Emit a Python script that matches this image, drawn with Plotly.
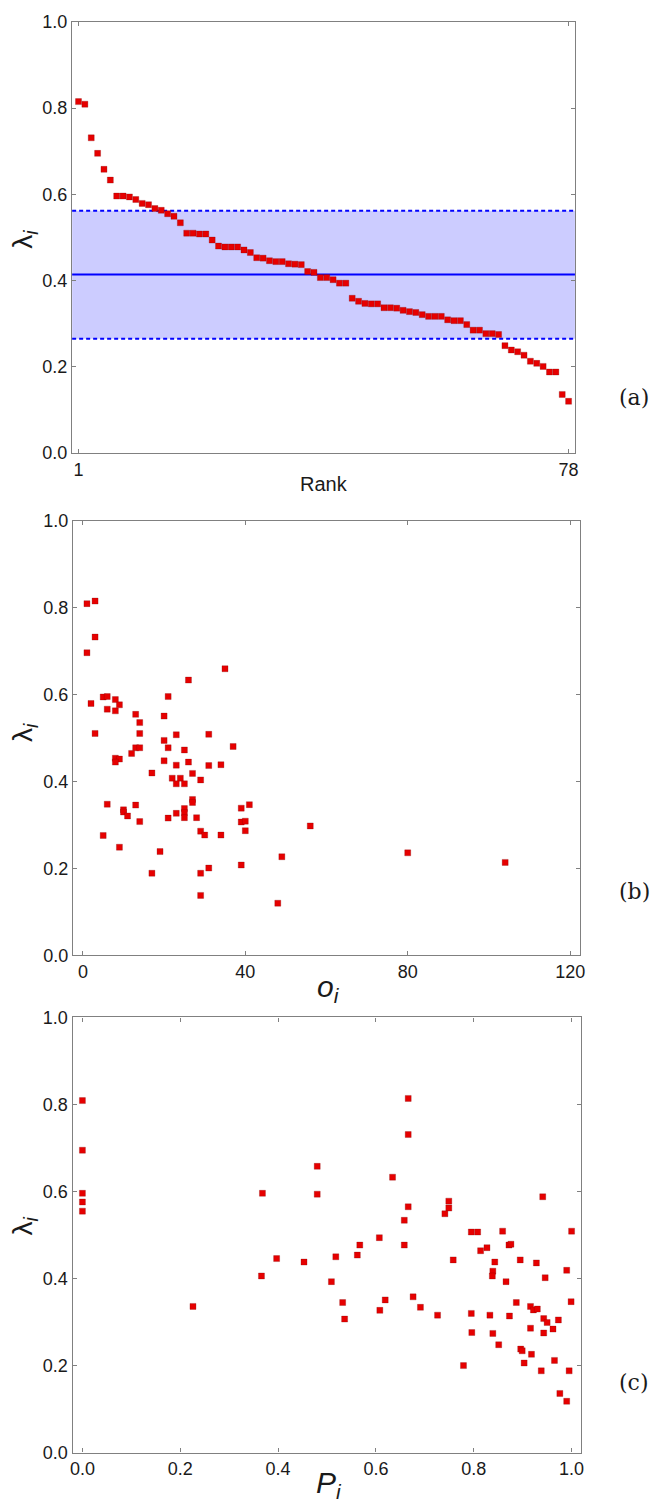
import plotly.graph_objects as go

W, H = 657, 1511

# ---------------- data ----------------
rank = list(range(1, 79))
lam_rank = [0.815, 0.809, 0.731, 0.695, 0.658, 0.633, 0.596, 0.596, 0.594, 0.588,
            0.579, 0.576, 0.567, 0.563, 0.555, 0.549, 0.534, 0.510, 0.510, 0.508,
            0.508, 0.494, 0.480, 0.478, 0.478, 0.478, 0.471, 0.465, 0.453, 0.452,
            0.446, 0.444, 0.444, 0.439, 0.438, 0.437, 0.421, 0.419, 0.407, 0.407,
            0.402, 0.394, 0.394, 0.359, 0.352, 0.347, 0.346, 0.346, 0.337, 0.337,
            0.336, 0.331, 0.328, 0.326, 0.321, 0.317, 0.317, 0.317, 0.309, 0.307,
            0.307, 0.298, 0.285, 0.285, 0.277, 0.277, 0.275, 0.249, 0.239, 0.235,
            0.227, 0.213, 0.208, 0.201, 0.188, 0.188, 0.136, 0.120]
band_mean = 0.414
band_lo = 0.265
band_hi = 0.562

o_vals = [2, 3, 5, 6, 6, 8, 8, 9, 13, 14, 14, 13, 14, 12, 8, 9, 8, 17, 20, 21,
          20, 21, 20, 23, 25, 23, 26, 22, 24, 23, 25, 27, 29, 26, 35, 31, 31, 34, 37, 6,
          10, 10, 11, 13, 14, 5, 9, 19, 17, 21, 23, 25, 25, 25, 27, 27, 28, 29, 30, 34,
          29, 31, 29, 39, 41, 39, 40, 40, 39, 49, 56, 80, 104, 1, 3, 3, 1, 48]
lam_o = [0.580, 0.511, 0.595, 0.596, 0.567, 0.589, 0.563, 0.577, 0.555, 0.536,
         0.511, 0.478, 0.478, 0.465, 0.454, 0.452, 0.445, 0.420, 0.551, 0.596,
         0.495, 0.478, 0.448, 0.508, 0.473, 0.438, 0.445, 0.408, 0.408, 0.395,
         0.395, 0.419, 0.404, 0.634, 0.660, 0.509, 0.437, 0.439, 0.481, 0.348,
         0.335, 0.330, 0.321, 0.346, 0.308, 0.276, 0.249, 0.239, 0.189, 0.316,
         0.327, 0.338, 0.329, 0.317, 0.359, 0.352, 0.317, 0.286, 0.277, 0.277,
         0.189, 0.201, 0.138, 0.339, 0.347, 0.307, 0.309, 0.287, 0.208, 0.227,
         0.298, 0.236, 0.214, 0.810, 0.816, 0.733, 0.697, 0.120]

p_vals = [0.0, 0.0, 0.48, 0.666, 0.666, 0.0, 0.0, 0.0, 0.368, 0.366,
          0.397, 0.453, 0.509, 0.518, 0.226, 0.48, 0.634, 0.567, 0.562, 0.607,
          0.658, 0.658, 0.666, 0.749, 0.749, 0.741, 0.758, 0.795, 0.808, 0.814,
          0.827, 0.859, 0.872, 0.876, 0.843, 0.839, 0.838, 0.866, 0.895, 0.928,
          0.941, 0.946, 0.990, 1.000, 0.532, 0.536, 0.608, 0.619, 0.676, 0.691,
          0.726, 0.795, 0.833, 0.873, 0.887, 0.916, 0.922, 0.930, 0.943, 0.950,
          0.973, 0.999, 0.796, 0.839, 0.916, 0.943, 0.962, 0.851, 0.896, 0.899,
          0.918, 0.779, 0.903, 0.965, 0.938, 0.995, 0.976, 0.990]
lam_p = [0.809, 0.695, 0.658, 0.814, 0.731, 0.596, 0.576, 0.555, 0.596, 0.406,
         0.446, 0.438, 0.393, 0.450, 0.336, 0.594, 0.633, 0.477, 0.454, 0.494,
         0.477, 0.534, 0.565, 0.578, 0.562, 0.549, 0.443, 0.507, 0.507, 0.464,
         0.471, 0.509, 0.477, 0.479, 0.438, 0.417, 0.406, 0.393, 0.443, 0.436,
         0.588, 0.402, 0.419, 0.509, 0.345, 0.307, 0.327, 0.351, 0.358, 0.334,
         0.316, 0.320, 0.316, 0.314, 0.345, 0.336, 0.328, 0.330, 0.308, 0.299,
         0.305, 0.347, 0.276, 0.274, 0.286, 0.275, 0.284, 0.248, 0.238, 0.234,
         0.226, 0.200, 0.206, 0.212, 0.188, 0.188, 0.136, 0.118]

y_ticks = [0.0, 0.2, 0.4, 0.6, 0.8, 1.0]
y_ticktext = ["0.0", "0.2", "0.4", "0.6", "0.8", "1.0"]
rank_ticks = [1, 78]
o_ticks = [0, 40, 80, 120]
p_ticks = [0.0, 0.2, 0.4, 0.6, 0.8, 1.0]
p_ticktext = ["0.0", "0.2", "0.4", "0.6", "0.8", "1.0"]

# ---------------- helpers ----------------
def px_x(x):
    return x / W

def px_y(y):
    return 1 - y / H

marker = dict(symbol="square", size=6, color="#e60000",
              line=dict(width=0.6, color="rgba(120,0,0,0.45)"))

fig = go.Figure()
fig.add_trace(go.Scatter(x=rank, y=lam_rank, mode="markers", marker=marker,
                         xaxis="x", yaxis="y", showlegend=False))
fig.add_trace(go.Scatter(x=o_vals, y=lam_o, mode="markers", marker=marker,
                         xaxis="x2", yaxis="y2", showlegend=False))
fig.add_trace(go.Scatter(x=p_vals, y=lam_p, mode="markers", marker=marker,
                         xaxis="x3", yaxis="y3", showlegend=False))

axis_common = dict(showline=True, linecolor="#808080", linewidth=1.3, mirror="ticks",
                   ticks="inside", ticklen=4, tickwidth=1, tickcolor="#808080",
                   showgrid=False, zeroline=False,
                   tickfont=dict(family="Liberation Sans, Arial, sans-serif", size=18,
                                 color="#1a1a1a"))

yax = dict(axis_common, range=[0, 1], tickvals=y_ticks, ticktext=y_ticktext)

fig.update_layout(
    width=W, height=H, margin=dict(l=0, r=0, t=0, b=0),
    paper_bgcolor="white", plot_bgcolor="white",
    xaxis=dict(axis_common, domain=[px_x(70), px_x(579)], range=[0, 79],
               tickvals=rank_ticks, anchor="y"),
    yaxis=dict(yax, domain=[px_y(449), px_y(12)], anchor="x"),
    xaxis2=dict(axis_common, domain=[px_x(71), px_x(584)], range=[-2.4, 122.4],
                tickvals=o_ticks, anchor="y2"),
    yaxis2=dict(yax, domain=[px_y(958), px_y(518)], anchor="x2"),
    xaxis3=dict(axis_common, domain=[px_x(70.5), px_x(585.5)], range=[-0.02, 1.02],
                tickvals=p_ticks, ticktext=p_ticktext, anchor="y3"),
    yaxis3=dict(yax, domain=[px_y(1462), px_y(1021)], anchor="x3"),
)

# band (mean +/- sd) in panel (a)
fig.add_shape(type="rect", xref="x domain", yref="y", x0=0, x1=1,
              y0=band_lo, y1=band_hi, fillcolor="rgba(0,0,255,0.2)",
              line=dict(width=0), layer="below")
fig.add_shape(type="line", xref="x domain", yref="y", x0=0, x1=1,
              y0=band_mean, y1=band_mean, line=dict(color="#0000ff", width=2),
              layer="below")
for lvl in (band_lo, band_hi):
    fig.add_shape(type="line", xref="x domain", yref="y", x0=0, x1=1,
                  y0=lvl, y1=lvl, line=dict(color="#0000ff", width=2, dash="4px,3px"),
                  layer="below")

sans = "Liberation Sans, Arial, sans-serif"
serif = "DejaVu Serif, serif"

def ann(text, x, y, size, family=sans, angle=0):
    fig.add_annotation(text=text, x=px_x(x), y=px_y(y), xref="paper", yref="paper",
                       showarrow=False, textangle=angle, xanchor="center",
                       yanchor="middle", font=dict(family=family, size=size,
                                                  color="#1a1a1a"))

lam_title = "λ<sub><i>i</i></sub>"
ann(lam_title, 22, 232, 28, angle=-90)
ann(lam_title, 22, 732, 28, angle=-90)
ann(lam_title, 22, 1232, 28, angle=-90)
ann("Rank", 325, 480, 20)
ann("<i>o</i><sub><i>i</i></sub>", 330, 992, 30)
ann("<i>P</i><sub><i>i</i></sub>", 330, 1494, 30)
ann("(a)", 639, 393, 22, family=serif)
ann("(b)", 639, 893, 22, family=serif)
ann("(c)", 639, 1391, 22, family=serif)

fig.write_html("out.html")
